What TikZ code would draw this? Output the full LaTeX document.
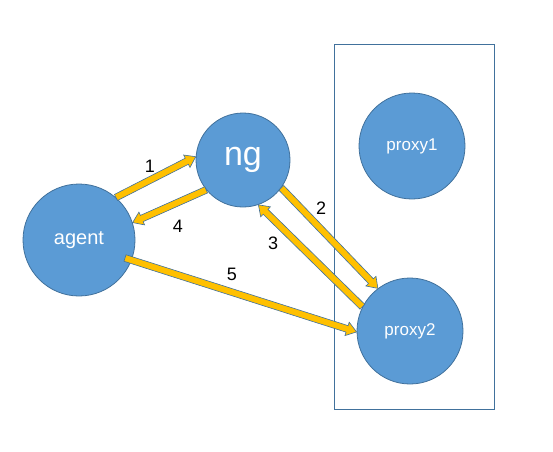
\documentclass[tikz,border=0pt]{standalone}
\usepackage{fontspec}
\setmainfont{Liberation Sans}
\usetikzlibrary{calc}
\definecolor{cfill}{HTML}{5B9BD5}
\definecolor{cline}{HTML}{41719C}
\definecolor{afill}{HTML}{FFC000}
\tikzset{
  peer/.style={circle, draw=cline, line width=0.8pt, fill=cfill, text=white, inner sep=0pt, font=\fontsize{20}{20}\selectfont},
  barrow/.style={draw=cline, line width=0.6pt, fill=afill, line join=miter},
  lbl/.style={font=\fontsize{18}{18}\selectfont, text=black},
  frame/.style={draw=cline, line width=0.8pt}
}
\newcommand\blockarr[2]{%
  \path (#1) coordinate (ba-s) (#2) coordinate (ba-e);
  \path ($(ba-e)!10pt!(ba-s)$) coordinate (ba-h);
  \draw[barrow] ($(ba-s)!3.4pt!90:(ba-e)$) -- ($(ba-h)!3.4pt!90:(ba-e)$) -- ($(ba-h)!7pt!90:(ba-e)$) -- (ba-e) -- ($(ba-h)!7pt!-90:(ba-e)$) -- ($(ba-h)!3.4pt!-90:(ba-e)$) -- ($(ba-s)!3.4pt!-90:(ba-e)$) -- cycle;
}
\begin{document}
\begin{tikzpicture}[x=1pt, y=-1pt]
\useasboundingbox (0,0) rectangle (553,451);
\node[frame, minimum width=160pt, minimum height=365pt, inner sep=0pt] (box) at (414,226.5) {};
\node[peer, minimum size=112pt] (agent) at (79,240) {agent};
\node[peer, minimum size=94pt, font=\fontsize{34}{34}\selectfont] (ng) at (243,160) {ng};
\node[peer, minimum size=106pt, font=\fontsize{17}{17}\selectfont] (proxy1) at (412,146) {proxy1};
\node[peer, minimum size=106pt, font=\fontsize{17}{17}\selectfont] (proxy2) at (410,331) {proxy2};
\coordinate (a5) at ($(agent.center)+(46,18)$);
\blockarr{agent.49}{ng.176}
\blockarr{ng.219}{agent.18}
\blockarr{ng.-36}{proxy2.127}
\blockarr{proxy2.153}{ng.-71}
\blockarr{a5}{proxy2.181}
\node[lbl] (l1) at (150,166) {1};
\node[lbl] (l4) at (178,226) {4};
\node[lbl] (l2) at (321,208) {2};
\node[lbl] (l3) at (273,243) {3};
\node[lbl] (l5) at (232,274) {5};
\end{tikzpicture}
\end{document}
